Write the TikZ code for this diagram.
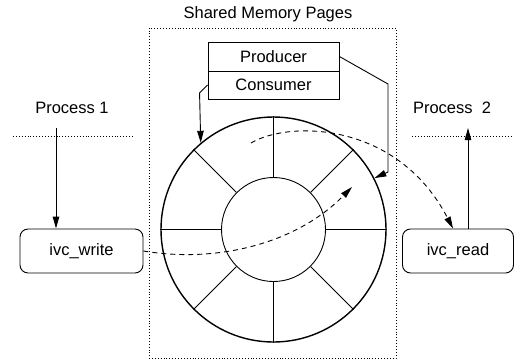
\documentclass[tikz,border=0pt]{standalone}
\usepackage{fontspec}
\setmainfont{Liberation Sans}
\usetikzlibrary{arrows.meta}
\begin{document}
\begin{tikzpicture}[x=1pt,y=-1pt,
  every node/.style={font=\fontsize{16.5}{19}\selectfont, inner sep=0pt},
  conn/.style={line width=0.9pt},
  arr/.style={conn, -{Triangle[length=12pt,width=6.5pt]}},
  dash/.style={}, 
  dashconn/.style={arr, dash pattern=on 5pt off 4pt},
  dotline/.style={line width=0.9pt, dotted},
  box/.style={draw, line width=0.9pt, minimum width=131pt},
  proc/.style={draw, line width=0.9pt, rounded corners=8pt, minimum height=44pt}]
\useasboundingbox (0,0) rectangle (514,360);
% shared memory region
\node[draw, dotline, minimum width=247pt, minimum height=330pt] (shm) at (272.5,193) {};
\node (title) at (268,14) {Shared Memory Pages};
% producer / consumer
\node[box, minimum height=29pt] (producer) at (273.5,56.5) {Producer};
\node[box, minimum height=28pt] (consumer) at (273.5,85) {Consumer};
% ring buffer
\node[circle, draw, line width=1.4pt, minimum size=225pt] (outer) at (273.5,229.5) {};
\node[circle, draw, line width=0.9pt, minimum size=104pt] (inner) at (273.5,229.5) {};
\foreach \a in {0,45,...,315} \draw[conn] (inner.\a) -- (outer.\a);
% processes
\node (p1) at (72,108) {Process 1};
\node (p2) at (452,108) {Process\ \ 2};
\coordinate (d1a) at (13,136);
\coordinate (d1b) at (133,136);
\coordinate (d2a) at (412,136);
\coordinate (d2b) at (514,136);
\draw[dotline] (d1a) -- (d1b);
\draw[dotline] (d2a) -- (d2b);
\node[proc, minimum width=123pt] (write) at (81.5,251) {ivc\_write};
\node[proc, minimum width=111pt] (read) at (458,251) {ivc\_read};
\coordinate (w0) at (56,128);
\coordinate (r0) at (468,128);
\draw[arr] (w0) -- (write.north -| w0);
\draw[arr] (read.north -| r0) -- (r0);
% pointers
\draw[arr] (consumer.west) -- ++(-8,8) -- (outer.130.7);
\draw[arr] (producer.east) -- (388,84) -- (388,172) -- (outer.27);
% data flow
\coordinate (wtip) at (352,187);
\coordinate (rstart) at (251,143);
\draw[dashconn] (write.east) .. controls (215,263) and (295,245) .. (wtip);
\draw[dashconn] (rstart) .. controls (290,120) and (398,122) .. ([xshift=-5pt]read.north);
\end{tikzpicture}
\end{document}
